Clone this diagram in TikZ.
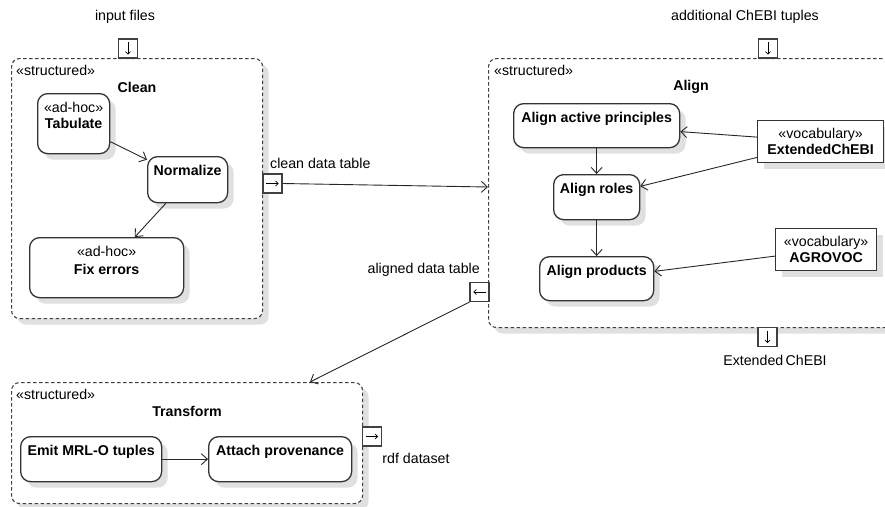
\documentclass[tikz,border=0pt]{standalone}
\usepackage{fontspec}
\setmainfont{Liberation Sans}
\usetikzlibrary{arrows.meta,shadows}

\tikzset{
  shade box/.style={drop shadow={shadow xshift=6pt,shadow yshift=-6pt,fill=black!12,opacity=1}},
  group/.style={draw=black!75,line width=1.1pt,dash pattern=on 3.5pt off 2.5pt,rounded corners=8pt,
    fill=white,shade box,anchor=north west,inner sep=0pt},
  act/.style={draw=black!80,line width=1.3pt,rounded corners=10pt,fill=white,shade box,
    anchor=north west,inner sep=0pt},
  vocab/.style={draw=black!80,line width=1.3pt,fill=white,shade box,align=center,
    anchor=north west,inner sep=0pt},
  acttext/.style={anchor=north,yshift=-7pt,align=center,inner sep=2pt},
  port/.style={draw=black!75,line width=1.1pt,fill=white,minimum width=19pt,minimum height=19pt,inner sep=0pt},
  portarrow/.style={line width=0.7pt,-{Straight Barb[length=2.5pt,width=5pt]}},
  flow/.style={draw=black!85,line width=0.9pt,-{Straight Barb[length=6pt,width=11pt]}},
}

\begin{document}
\begin{tikzpicture}[x=1pt,y=-1pt,font=\fontsize{14.2}{16}\selectfont]
\useasboundingbox (0,0) rectangle (885,506);
\clip (0,0) rectangle (885,506);

% containers
\node[group,minimum width=251pt,minimum height=260pt] (clean) at (11,58) {};
\node[group,minimum width=420pt,minimum height=269pt] (align) at (488,58) {};
\node[group,minimum width=351pt,minimum height=121pt] (transform) at (11,382) {};

\node[anchor=west,inner sep=0pt] (cleanst) at (16,70) {«structured»};
\node (cleantitle) at (137,87) {\textbf{Clean}};
\node[anchor=west,inner sep=0pt] (alignst) at (494,70) {«structured»};
\node (aligntitle) at (691,87) {\textbf{Align}};
\node[anchor=west,inner sep=0pt] (transst) at (16,394) {«structured»};
\node (transtitle) at (187,411) {\textbf{Transform}};

% clean
\node[act,minimum width=72pt,minimum height=60pt,
  label={[acttext]north:{«ad-hoc»\\\textbf{Tabulate}}}] (tab) at (37,93) {};
\node[act,minimum width=80pt,minimum height=46pt,
  label={[acttext]north:\textbf{Normalize}}] (norm) at (147,156) {};
\node[act,minimum width=154pt,minimum height=60pt,
  label={[acttext]north:{«ad-hoc»\\[2pt]\textbf{Fix errors}}}] (fix) at (29,237) {};

% align
\node[act,minimum width=166pt,minimum height=44pt,
  label={[acttext]north:\textbf{Align active principles}}] (active) at (513,103) {};
\node[act,minimum width=86pt,minimum height=45pt,
  label={[acttext]north:\textbf{Align roles}}] (roles) at (553,174) {};
\node[act,minimum width=114pt,minimum height=44pt,
  label={[acttext]north:\textbf{Align products}}] (prod) at (539,256) {};
\node[vocab,minimum width=126pt,minimum height=42pt] (extchebi) at (757,120) {«vocabulary»\\\textbf{ExtendedChEBI}};
\node[vocab,minimum width=101pt,minimum height=42pt] (agrovoc) at (775,228) {«vocabulary»\\\textbf{AGROVOC}};

% transform
\node[act,minimum width=141pt,minimum height=45pt,
  label={[acttext]north:\textbf{Emit MRL-O tuples}}] (emit) at (20,436) {};
\node[act,minimum width=143pt,minimum height=45pt,
  label={[acttext]north:\textbf{Attach provenance}}] (attach) at (208,436) {};

% ports
\node[port] (inport) at (128,48.5) {};
\node[port] (chebiin) at (768,48.5) {};
\node[port] (cleanout) at (272.5,183.5) {};
\node[port] (alignout) at (479.5,292) {};
\node[port] (extout) at (767.5,337) {};
\node[port] (rdfout) at (372,436.5) {};
\draw[portarrow] ([yshift=-4pt]inport.north) -- ([yshift=4pt]inport.south);
\draw[portarrow] ([yshift=-4pt]chebiin.north) -- ([yshift=4pt]chebiin.south);
\draw[portarrow] ([xshift=4pt]cleanout.west) -- ([xshift=-4pt]cleanout.east);
\draw[portarrow] ([xshift=-4pt]alignout.east) -- ([xshift=4pt]alignout.west);
\draw[portarrow] ([yshift=-4pt]extout.north) -- ([yshift=4pt]extout.south);
\draw[portarrow] ([xshift=4pt]rdfout.west) -- ([xshift=-4pt]rdfout.east);

\node (inlabel) at (125,17) {input files};
\node (chebilabel) at (745,17) {additional ChEBI tuples};
\node[anchor=west,inner sep=0pt] (cleanlabel) at (270,163) {clean data table};
\node[anchor=east,inner sep=0pt] (alignlabel) at (480,270) {aligned data table};
\node (extlabel) at (775,360) {Extended\,ChEBI};
\node (rdflabel) at (416,458) {rdf dataset};

% flows
\coordinate (alignin) at (488,187);
\coordinate (transin) at (310,382);
\draw[flow] (tab) -- (norm);
\draw[flow] (norm) -- (fix);
\draw[flow] (active) -- (roles);
\draw[flow] (roles) -- (prod);
\draw[flow] (extchebi) -- (active);
\draw[flow] (extchebi) -- (roles);
\draw[flow] (agrovoc) -- (prod);
\draw[flow] (emit) -- (attach);
\draw[flow] (cleanout.east) -- (alignin);
\draw[flow] (alignout.south west) -- (transin);
\end{tikzpicture}
\end{document}
